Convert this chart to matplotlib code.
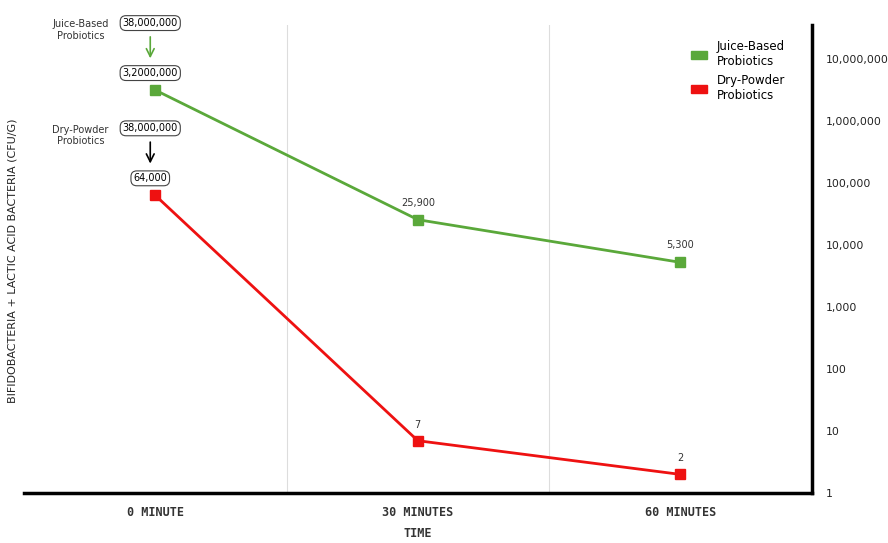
import matplotlib.pyplot as plt
from matplotlib.patches import Patch
from matplotlib.ticker import FixedLocator, NullLocator

# Data
times = ["0 MINUTE", "30 MINUTES", "60 MINUTES"]
juice = [3200000, 25900, 5300]
dry = [64000, 7, 2]
juice_labels = ["3,2000,000", "25,900", "5,300"]
dry_labels = ["64,000", "7", "2"]
start_value = "38,000,000"
y_ticks = [1, 10, 100, 1000, 10000, 100000, 1000000, 10000000]
y_tick_labels = ["1", "10", "100", "1,000", "10,000", "100,000", "1,000,000", "10,000,000"]

green = "#5aa83a"
red = "#ee1111"

fig = plt.figure(figsize=(8.88, 5.43), dpi=100)
ax = fig.add_axes([0.027, 0.092, 0.887, 0.862])

x = list(range(len(times)))
ax.plot(x, juice, color=green, lw=2, marker="s", ms=7, zorder=3)
ax.plot(x, dry, color=red, lw=2, marker="s", ms=7, zorder=3)

ax.set_yscale("log")
ax.set_ylim(1, 3.6e7)
ax.set_xlim(-0.5, 2.5)

ax.yaxis.tick_right()
ax.yaxis.set_major_locator(FixedLocator(y_ticks))
ax.yaxis.set_minor_locator(NullLocator())
ax.set_yticklabels(y_tick_labels, fontsize=7.8, color="#222222")
ax.tick_params(axis="y", length=0, pad=10)

ax.set_xticks(x)
ax.set_xticklabels(times, fontsize=8.5, family="DejaVu Sans Mono", weight="bold", color="#333333")
ax.tick_params(axis="x", length=0, pad=9)
ax.set_xlabel("TIME", fontsize=8.5, family="DejaVu Sans Mono", weight="bold", color="#333333", labelpad=6)

fig.text(0.014, 0.52, "BIFIDOBACTERIA + LACTIC ACID BACTERIA (CFU/G)", rotation=90,
         ha="center", va="center", fontsize=8, color="#222222")

for gx in [0.5, 1.5]:
    ax.axvline(gx, color="#dddddd", lw=0.8, zorder=0)

for s in ["left", "top"]:
    ax.spines[s].set_visible(False)
ax.spines["right"].set_linewidth(2.5)
ax.spines["bottom"].set_linewidth(2.5)

# point labels
for i in [1, 2]:
    ax.annotate(juice_labels[i], (x[i], juice[i]), xytext=(0, 17), textcoords="offset pixels",
                ha="center", va="center", fontsize=7, color="#333333")
    ax.annotate(dry_labels[i], (x[i], dry[i]), xytext=(0, 16), textcoords="offset pixels",
                ha="center", va="center", fontsize=7, color="#333333")

box = dict(boxstyle="round,pad=0.25,rounding_size=0.6", fc="white", ec="#444444", lw=0.8)

# start annotations above the first point of each series
for vals, first, acol, name in [(juice, juice_labels[0], green, "Juice-Based\nProbiotics"),
                                (dry, dry_labels[0], "black", "Dry-Powder\nProbiotics")]:
    ax.annotate(first, (x[0], vals[0]), xytext=(-5, 17), textcoords="offset pixels",
                ha="center", va="center", fontsize=7, bbox=box)
    ax.annotate(start_value, (x[0], vals[0]), xytext=(-5, 67), textcoords="offset pixels",
                ha="center", va="center", fontsize=7, bbox=box)
    ax.annotate(name, (x[0], vals[0]), xytext=(-75, 60), textcoords="offset pixels",
                ha="center", va="center", fontsize=7, color="#333333")
    # arrow between the two boxes
    px, py = ax.transData.transform((x[0], vals[0]))
    inv = ax.transData.inverted()
    tip = inv.transform((px - 5, py + 29))
    tail = inv.transform((px - 5, py + 56))
    ax.annotate("", xy=tip, xytext=tail,
                arrowprops=dict(arrowstyle="->", lw=1.2, mutation_scale=14, color=acol))

handles = [Patch(color=green, label="Juice-Based\nProbiotics"),
           Patch(color=red, label="Dry-Powder\nProbiotics")]
ax.legend(handles=handles, loc="upper right", bbox_to_anchor=(0.98, 0.99), frameon=False,
          fontsize=8.5, handlelength=1.4, handleheight=0.6, labelspacing=0.5)

fig.savefig("out.png", dpi=100)
